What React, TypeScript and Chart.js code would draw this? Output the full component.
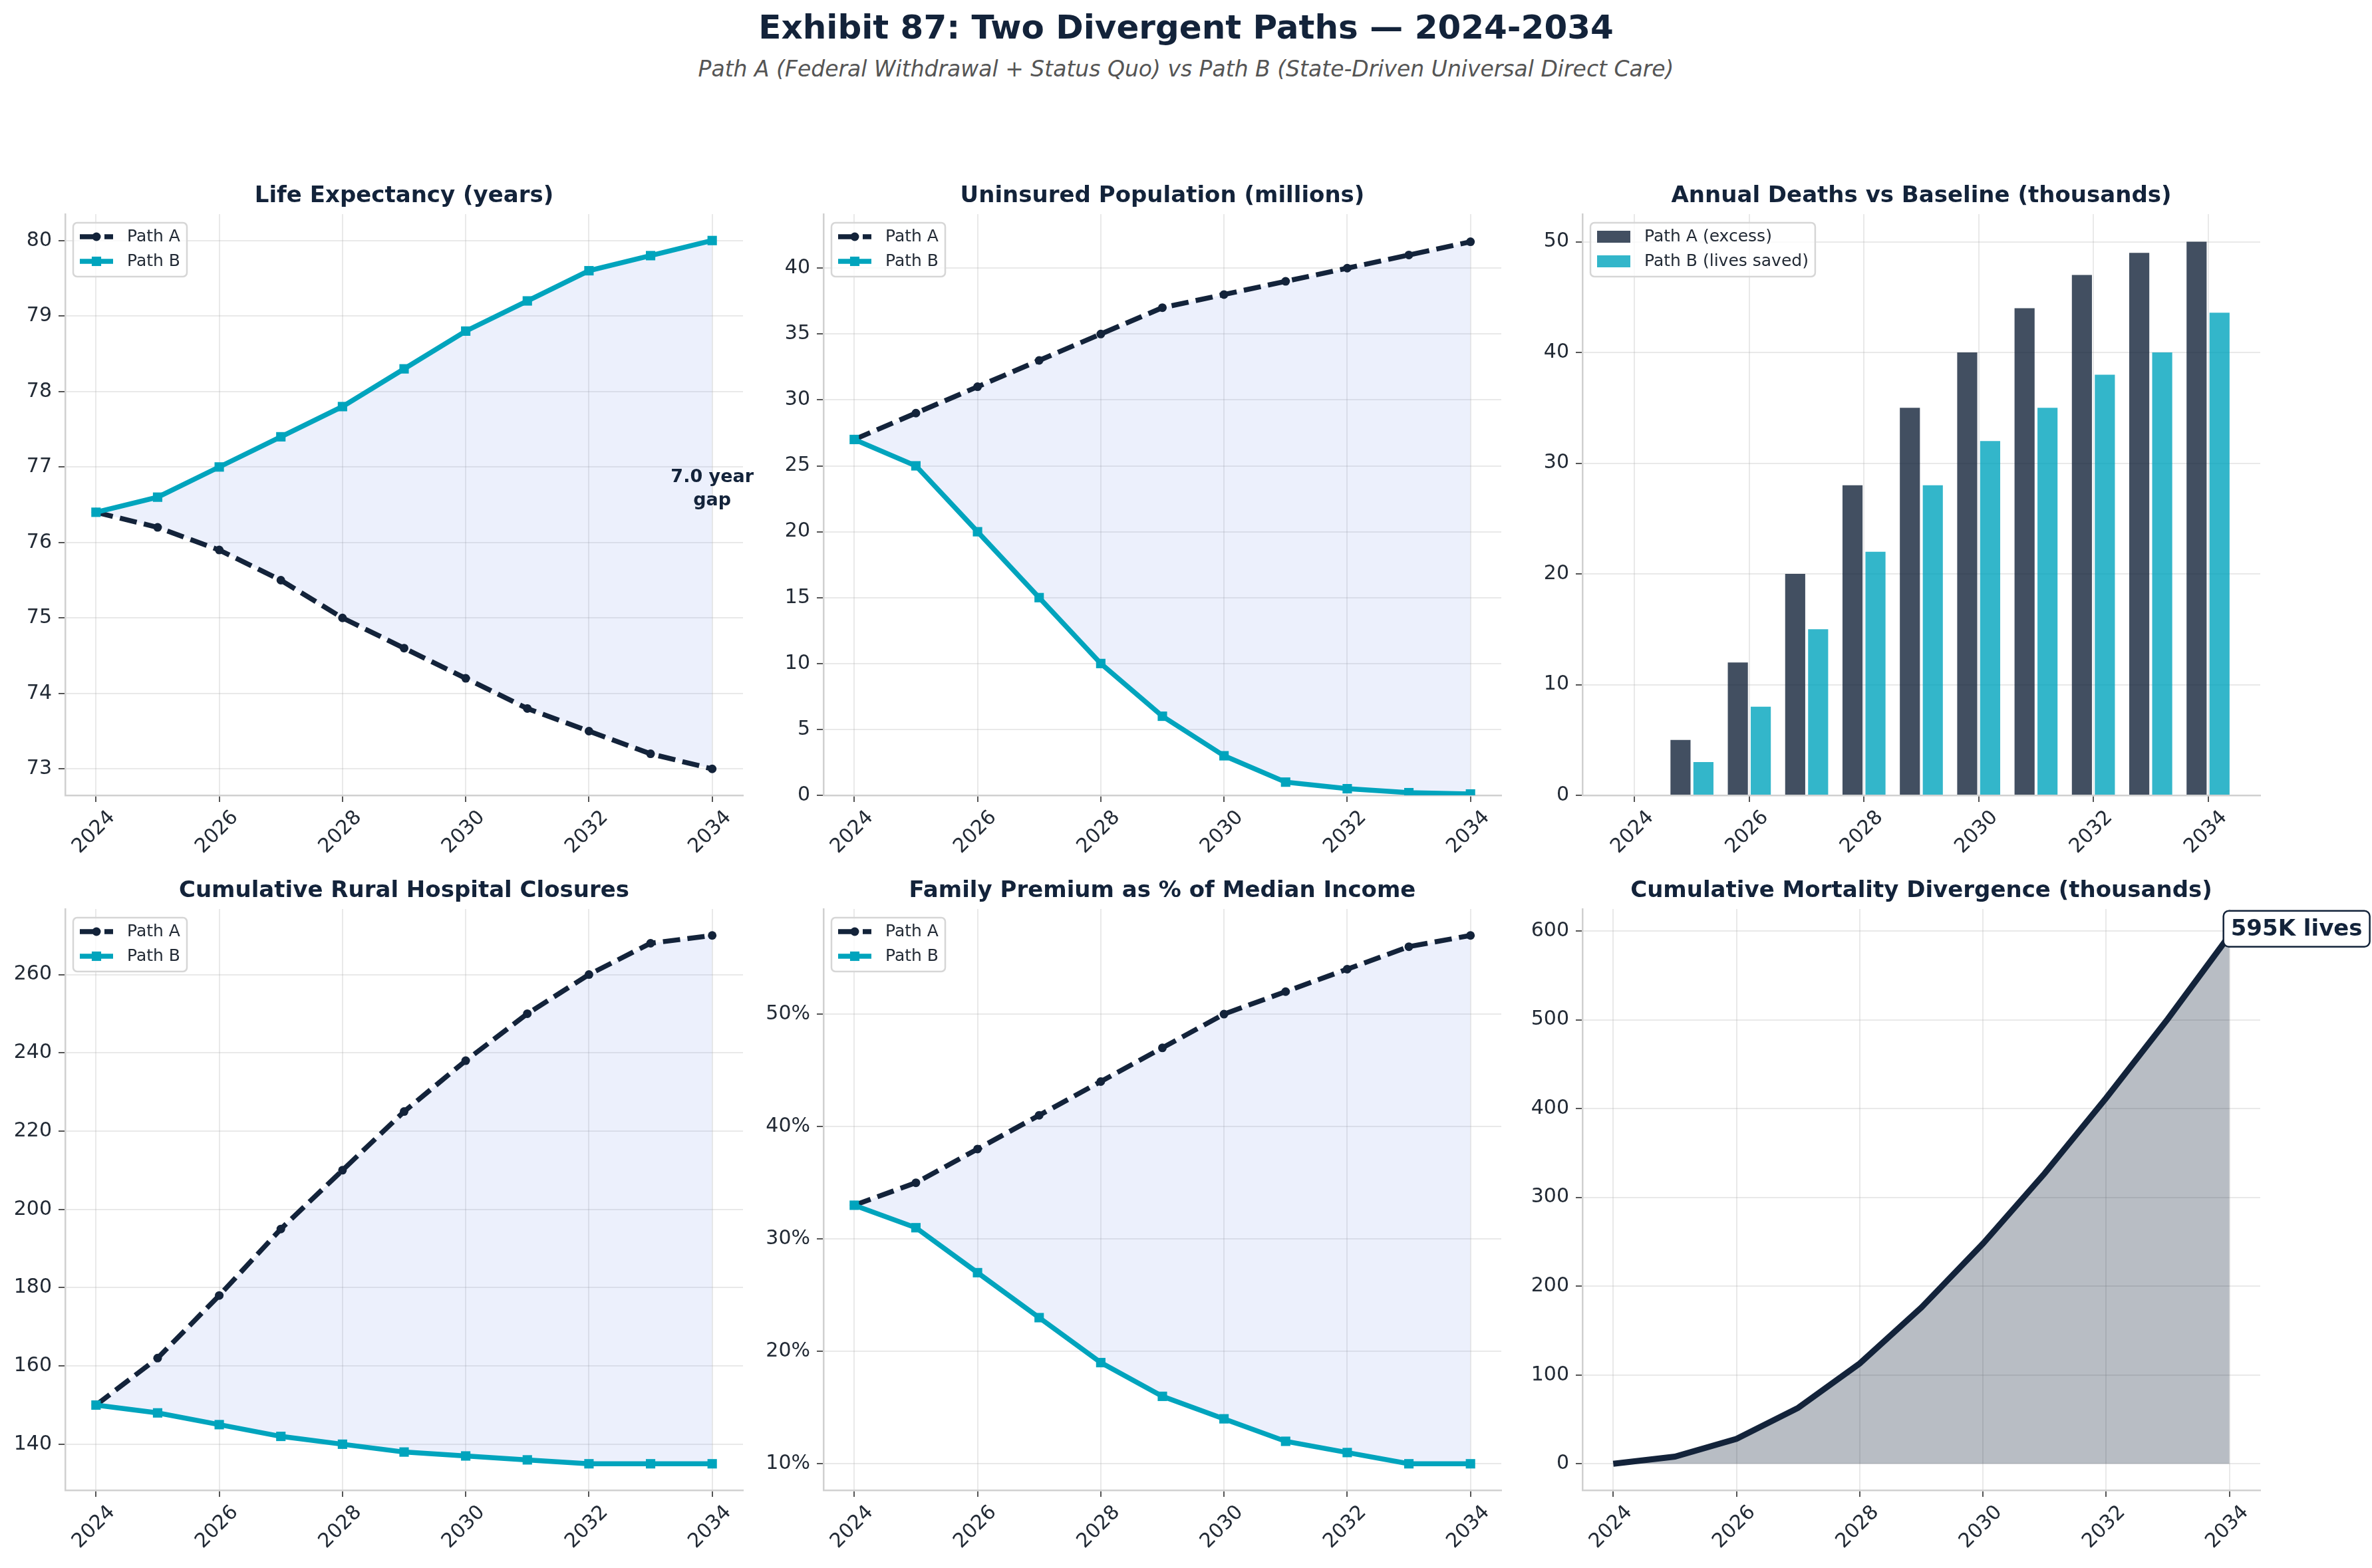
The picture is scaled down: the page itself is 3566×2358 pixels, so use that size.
import React, { useEffect, useRef } from 'react';
import { Chart, registerables } from 'chart.js';

Chart.register(...registerables);

// ---- data ----
const years = [2024, 2025, 2026, 2027, 2028, 2029, 2030, 2031, 2032, 2033, 2034];
const xTicks = [2024, 2026, 2028, 2030, 2032, 2034];

const lifeA = [76.4, 76.2, 75.9, 75.5, 75.0, 74.6, 74.2, 73.8, 73.5, 73.2, 73.0];
const lifeB = [76.4, 76.6, 77.0, 77.4, 77.8, 78.3, 78.8, 79.2, 79.6, 79.8, 80.0];
const lifeTicks = [73, 74, 75, 76, 77, 78, 79, 80];

const uninsuredA = [27, 29, 31, 33, 35, 37, 38, 39, 40, 41, 42];
const uninsuredB = [27, 25, 20, 15, 10, 6, 3, 1, 0.5, 0.2, 0.1];
const uninsuredTicks = [0, 5, 10, 15, 20, 25, 30, 35, 40];

const deathsA = [0, 5, 12, 20, 28, 35, 40, 44, 47, 49, 50];
const deathsB = [0, 3, 8, 15, 22, 28, 32, 35, 38, 40, 43.6];
const deathsTicks = [0, 10, 20, 30, 40, 50];

const closuresA = [150, 162, 178, 195, 210, 225, 238, 250, 260, 268, 270];
const closuresB = [150, 148, 145, 142, 140, 138, 137, 136, 135, 135, 135];
const closuresTicks = [140, 160, 180, 200, 220, 240, 260];

const premiumA = [33, 35, 38, 41, 44, 47, 50, 52, 54, 56, 57];
const premiumB = [33, 31, 27, 23, 19, 16, 14, 12, 11, 10, 10];
const premiumTicks = [10, 20, 30, 40, 50];

const mortality = [0, 8, 28, 63, 113, 176, 248, 327, 412, 501, 595];
const mortalityTicks = [0, 100, 200, 300, 400, 500, 600];

// ---- look ----
const FONT = "'DejaVu Sans', 'Liberation Sans', sans-serif";
const NAVY = '#13233a';
const TEAL = '#00a4bd';
const BETWEEN = 'rgba(65,105,225,0.1)';
const GRID = 'rgba(176,176,176,0.28)';
const TICK = '#222a35';

const PLOT_W = 1019;
const PLOT_H = 874;
const AXIS_L = 98;
const TITLE_H = 72;
const AXIS_B = 110;
const PAD_R = 170;
const CANVAS_W = AXIS_L + PLOT_W + PAD_R;
const CANVAS_H = TITLE_H + PLOT_H + AXIS_B;
const COL_X = [0, 1140, 2281];
const ROW_Y = [250, 1295];

const plain = (v: number) => String(v);

function scales(yMin: number, yMax: number, yTicks: number[], xMin: number, xMax: number, fmt = plain, z = 0) {
  const grid = { color: GRID, lineWidth: 2, tickColor: '#555', tickWidth: 2, tickLength: 10, offset: false };
  const border = { color: '#d0d0d0', width: 2.5 };
  return {
    x: {
      type: 'linear',
      min: xMin,
      max: xMax,
      offset: false,
      z,
      grid,
      border,
      afterBuildTicks: (s: any) => { s.ticks = xTicks.map((v) => ({ value: v })); },
      afterFit: (s: any) => { s.height = AXIS_B; },
      ticks: {
        font: { family: FONT, size: 30 },
        color: TICK,
        minRotation: 45,
        maxRotation: 45,
        labelOffset: 24,
        padding: 6,
        autoSkip: false,
        callback: (v: number) => plain(v),
      },
    },
    y: {
      type: 'linear',
      min: yMin,
      max: yMax,
      z,
      grid,
      border,
      afterBuildTicks: (s: any) => { s.ticks = yTicks.map((v) => ({ value: v })); },
      afterFit: (s: any) => { s.width = AXIS_L; },
      ticks: {
        font: { family: FONT, size: 30 },
        color: TICK,
        padding: 10,
        callback: (v: number) => fmt(v),
      },
    },
  };
}

function titleOpts(text: string) {
  return {
    display: true,
    text,
    fullSize: false,
    color: NAVY,
    font: { family: FONT, size: 34, weight: 'bold', lineHeight: 1.2 },
    padding: { top: 25, bottom: 6.2 },
  };
}

// matplotlib-like framed legend in the top-left corner of the plot
const mplLegend = {
  id: 'mplLegend',
  afterDatasetsDraw(chart: any) {
    const { ctx, chartArea } = chart;
    const items = chart.data.datasets;
    const isBar = chart.config.type === 'bar';
    ctx.save();
    ctx.font = `25px ${FONT}`;
    const textW = Math.max(...items.map((d: any) => ctx.measureText(d.label).width));
    const x0 = chartArea.left + 12;
    const y0 = chartArea.top + 13;
    const w = 81 + textW + 10;
    const h = 81;
    ctx.beginPath();
    ctx.roundRect(x0, y0, w, h, 6);
    ctx.fillStyle = 'rgba(255,255,255,0.8)';
    ctx.fill();
    ctx.lineWidth = 2.5;
    ctx.strokeStyle = '#d6d6d6';
    ctx.stroke();
    items.forEach((d: any, i: number) => {
      const cy = y0 + 21 + i * 37;
      const sx = x0 + 10;
      if (isBar) {
        ctx.fillStyle = d.backgroundColor;
        ctx.fillRect(sx, cy - 9, 50, 18);
      } else {
        ctx.setLineDash(d.borderDash || []);
        ctx.strokeStyle = d.borderColor;
        ctx.lineWidth = d.borderWidth;
        ctx.beginPath();
        ctx.moveTo(sx, cy);
        ctx.lineTo(sx + 50, cy);
        ctx.stroke();
        ctx.setLineDash([]);
        ctx.fillStyle = d.pointBackgroundColor;
        if (d.pointStyle === 'rect') {
          const s = d.pointRadius * Math.SQRT1_2;
          ctx.fillRect(sx + 25 - s, cy - s, 2 * s, 2 * s);
        } else {
          ctx.beginPath();
          ctx.arc(sx + 25, cy, d.pointRadius, 0, Math.PI * 2);
          ctx.fill();
        }
      }
      ctx.fillStyle = TICK;
      ctx.textAlign = 'left';
      ctx.textBaseline = 'middle';
      ctx.fillText(d.label, x0 + 81, cy);
    });
    ctx.restore();
  },
};

function pathDatasets(a: number[], b: number[]) {
  return [
    {
      label: 'Path A',
      data: a,
      borderColor: NAVY,
      backgroundColor: BETWEEN,
      borderWidth: 7.5,
      borderDash: [26, 11],
      pointStyle: 'circle',
      pointRadius: 6.5,
      pointBackgroundColor: NAVY,
      pointBorderWidth: 0,
      fill: '+1',
      tension: 0,
      order: 1,
    },
    {
      label: 'Path B',
      data: b,
      borderColor: TEAL,
      backgroundColor: TEAL,
      borderWidth: 7.5,
      pointStyle: 'rect',
      pointRadius: 10,
      pointBackgroundColor: TEAL,
      pointBorderWidth: 0,
      fill: false,
      tension: 0,
      order: 0,
    },
  ];
}

function lineConfig(title: string, a: number[], b: number[], yMin: number, yMax: number, yTicks: number[], fmt = plain, extra: any[] = []) {
  return {
    type: 'line',
    data: { labels: years, datasets: pathDatasets(a, b) },
    options: {
      animation: false,
      responsive: false,
      layout: { padding: { left: 0, right: PAD_R, top: 0, bottom: 0 } },
      plugins: { legend: { display: false }, tooltip: { enabled: false }, title: titleOpts(title) },
      scales: scales(yMin, yMax, yTicks, 2023.5, 2034.5, fmt),
    },
    plugins: [mplLegend, ...extra],
  };
}

const gapNote = {
  id: 'gapNote',
  afterDraw(chart: any) {
    const { ctx, scales: s } = chart;
    const last = years.length - 1;
    const gap = lifeB[last] - lifeA[last];
    const mid = (lifeB[last] + lifeA[last]) / 2;
    const px = s.x.getPixelForValue(years[last]);
    const py = s.y.getPixelForValue(mid);
    ctx.save();
    ctx.font = `bold 27px ${FONT}`;
    ctx.fillStyle = NAVY;
    ctx.textAlign = 'center';
    ctx.textBaseline = 'middle';
    ctx.fillText(`${gap.toFixed(1)} year`, px, py - 41);
    ctx.fillText('gap', px, py - 6);
    ctx.restore();
  },
};

const livesNote = {
  id: 'livesNote',
  afterDraw(chart: any) {
    const { ctx, scales: s } = chart;
    const last = years.length - 1;
    const px = s.x.getPixelForValue(years[last]);
    const py = s.y.getPixelForValue(mortality[last]);
    const label = `${mortality[last]}K lives`;
    ctx.save();
    ctx.font = `bold 34px ${FONT}`;
    const tw = ctx.measureText(label).width;
    const tx = px + 2;
    const ty = py - 10;
    ctx.beginPath();
    ctx.roundRect(tx - 11, ty - 27, tw + 22, 54, 8);
    ctx.fillStyle = '#ffffff';
    ctx.fill();
    ctx.lineWidth = 2.5;
    ctx.strokeStyle = NAVY;
    ctx.stroke();
    ctx.fillStyle = NAVY;
    ctx.textAlign = 'left';
    ctx.textBaseline = 'middle';
    ctx.fillText(label, tx, ty + 1);
    ctx.restore();
  },
};

const configs = [
  () => lineConfig('Life Expectancy (years)', lifeA, lifeB, 72.65, 80.35, lifeTicks, plain, [gapNote]),
  () => lineConfig('Uninsured Population (millions)', uninsuredA, uninsuredB, 0, 44.1, uninsuredTicks),
  () => ({
    type: 'bar',
    data: {
      labels: years,
      datasets: [
        { label: 'Path A (excess)', data: deathsA, backgroundColor: 'rgba(19,35,58,0.8)', borderWidth: 0 },
        { label: 'Path B (lives saved)', data: deathsB, backgroundColor: 'rgba(0,164,189,0.8)', borderWidth: 0 },
      ],
    },
    options: {
      animation: false,
      responsive: false,
      categoryPercentage: 0.8,
      barPercentage: 0.875,
      layout: { padding: { left: 0, right: PAD_R, top: 0, bottom: 0 } },
      plugins: { legend: { display: false }, tooltip: { enabled: false }, title: titleOpts('Annual Deaths vs Baseline (thousands)') },
      scales: scales(0, 52.5, deathsTicks, 2023.09, 2034.91, plain, 1),
    },
    plugins: [mplLegend],
  }),
  () => lineConfig('Cumulative Rural Hospital Closures', closuresA, closuresB, 128.25, 276.75, closuresTicks),
  () => lineConfig('Family Premium as % of Median Income', premiumA, premiumB, 7.65, 59.35, premiumTicks, (v) => `${v}%`),
  () => ({
    type: 'line',
    data: {
      labels: years,
      datasets: [
        {
          label: 'Cumulative divergence',
          data: mortality,
          borderColor: NAVY,
          backgroundColor: 'rgba(19,35,58,0.3)',
          borderWidth: 9,
          pointRadius: 0,
          fill: 'origin',
          tension: 0,
        },
      ],
    },
    options: {
      animation: false,
      responsive: false,
      layout: { padding: { left: 0, right: PAD_R, top: 0, bottom: 0 } },
      plugins: { legend: { display: false }, tooltip: { enabled: false }, title: titleOpts('Cumulative Mortality Divergence (thousands)') },
      scales: scales(-29.75, 624.75, mortalityTicks, 2023.5, 2034.5, plain, 1),
    },
    plugins: [livesNote],
  }),
];

const Panel: React.FC<{ index: number }> = ({ index }) => {
  const canvasRef = useRef<HTMLCanvasElement>(null);
  const chartRef = useRef<Chart | null>(null);

  useEffect(() => {
    if (canvasRef.current) {
      if (chartRef.current) chartRef.current.destroy();
      chartRef.current = new Chart(canvasRef.current, configs[index]() as any);
    }
    return () => {
      if (chartRef.current) {
        chartRef.current.destroy();
        chartRef.current = null;
      }
    };
  }, [index]);

  const left = COL_X[index % 3];
  const top = ROW_Y[Math.floor(index / 3)];
  return (
    <canvas
      ref={canvasRef}
      width={CANVAS_W}
      height={CANVAS_H}
      style={{ position: 'absolute', left, top, width: CANVAS_W, height: CANVAS_H, display: 'block' }}
    />
  );
};

export default function App() {
  return (
    <div style={{ position: 'absolute', left: 0, top: 0, width: 3566, height: 2358, background: '#fff', overflow: 'hidden', fontFamily: FONT }}>
      <div style={{ position: 'absolute', left: 0, top: 16, width: '100%', textAlign: 'center', fontSize: 50, lineHeight: '50px', fontWeight: 'bold', color: NAVY }}>
        Exhibit 87: Two Divergent Paths — 2024-2034
      </div>
      <div style={{ position: 'absolute', left: 0, top: 87, width: '100%', textAlign: 'center', fontSize: 33, lineHeight: '33px', fontStyle: 'italic', color: '#555555' }}>
        Path A (Federal Withdrawal + Status Quo) vs Path B (State-Driven Universal Direct Care)
      </div>
      {[0, 1, 2, 3, 4, 5].map((i) => (
        <Panel key={i} index={i} />
      ))}
    </div>
  );
}
